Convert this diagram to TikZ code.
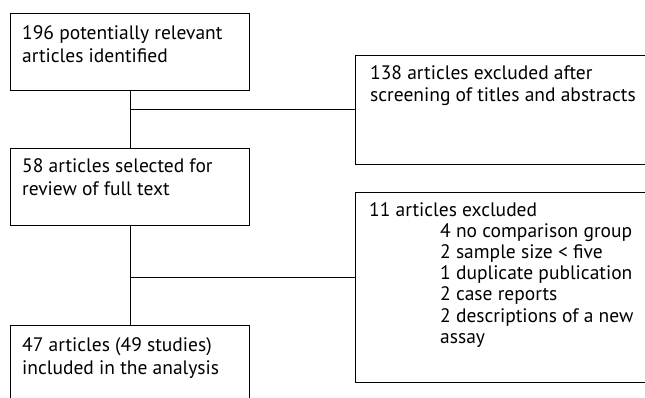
\documentclass[tikz,border=0pt]{standalone}
\usepackage{fontspec}
\setmainfont{PT Sans}
\usetikzlibrary{calc}
\begin{document}
\begin{tikzpicture}[x=1pt,y=-1pt,
  box/.style={draw=black, line width=1pt, rectangle, inner sep=0pt},
  txt/.style={anchor=north west, inner sep=0pt, align=left, font=\fontsize{19.5}{23}\selectfont},
  conn/.style={draw=black, line width=1pt}]
\useasboundingbox (0,0) rectangle (645,398);
\clip (0,0) rectangle (645,398);
% left boxes
\node[box, minimum width=239pt, minimum height=77pt, anchor=north west] (b1) at (10,13) {};
\node[box, minimum width=239pt, minimum height=77pt, anchor=north west] (b2) at (10,148) {};
\node[box, minimum width=239pt, minimum height=90pt, anchor=north west] (b3) at (10,325) {};
% right boxes
\node[box, minimum width=305pt, minimum height=109pt, anchor=north west] (r1) at (355,55) {};
\node[box, minimum width=305pt, minimum height=190pt, anchor=north west] (r2) at (355,192) {};
% texts
\node[txt] (t1) at (22,25) {196 potentially relevant\\articles identified};
\node[txt] (t2) at (22,158) {58 articles selected for\\review of full text};
\node[txt] (t3) at (22,337) {47 articles (49 studies)\\included in the analysis};
\node[txt, font=\fontsize{19.5}{22}\selectfont] (t4) at (370,65) {138 articles excluded after\\screening of titles and abstracts};
\node[txt, font=\fontsize{19.5}{21.2}\selectfont] (t5) at (369,202) {11 articles excluded\\
\hspace*{71pt}4 no comparison group\\
\hspace*{71pt}2 sample size < five\\
\hspace*{71pt}1 duplicate publication\\
\hspace*{71pt}2 case reports\\
\hspace*{71pt}2 descriptions of a new\\
\hspace*{71pt}assay};
% connectors
\coordinate (j1) at (b1.south |- r1.west);
\coordinate (j2) at (b2.south |- 0,277);
\draw[conn] (b1.south) -- (b2.north);
\draw[conn] (j1) -- (r1.west |- j1);
\draw[conn] (b2.south) -- (b3.north);
\draw[conn] (j2) -- (r2.west |- j2);
\end{tikzpicture}
\end{document}
